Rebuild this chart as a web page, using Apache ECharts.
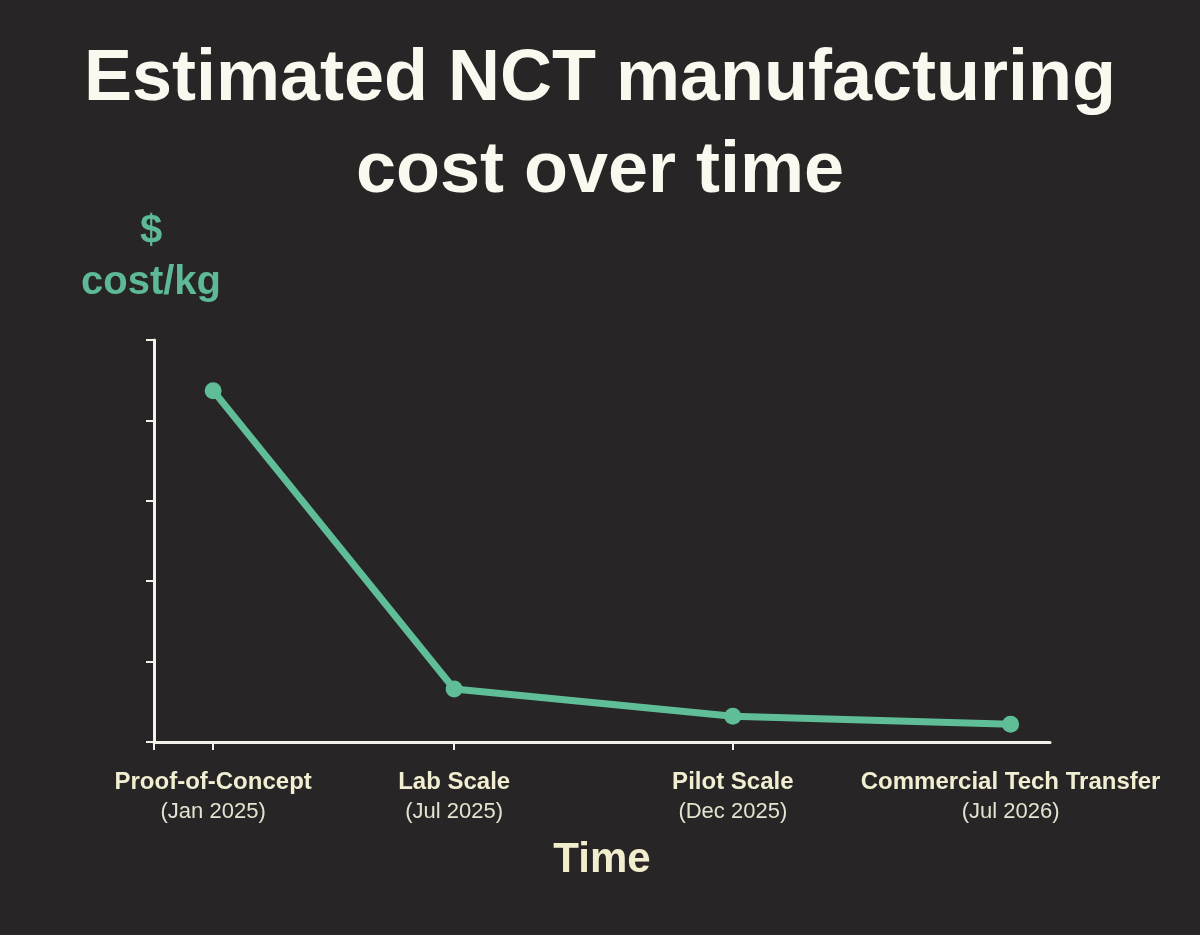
<!DOCTYPE html>
<html>
<head>
<meta charset="utf-8">
<script src="https://cdn.jsdelivr.net/npm/echarts@6/dist/echarts.min.js"></script>
<style>
html,body{margin:0;padding:0;background:#272526;}
#chart{width:1200px;height:935px;}
</style>
</head>
<body>
<div id="chart"></div>
<script>
var stages = ['Proof-of-Concept', 'Lab Scale', 'Pilot Scale', 'Commercial Tech Transfer'];
var dates = ['(Jan 2025)', '(Jul 2025)', '(Dec 2025)', '(Jul 2026)'];
var xPos = [6.6, 33.5, 64.6, 95.6];
var cost = [4.37, 0.66, 0.32, 0.22];
var yTicks = [0, 1, 2, 3, 4, 5];

var chart = echarts.init(document.getElementById('chart'));
var fontFam = '"Liberation Sans", Arial, Helvetica, sans-serif';
var axisCol = '#F4F2E8';
var green = '#5FBE98';

chart.setOption({
  backgroundColor: '#272526',
  title: {
    text: 'Estimated NCT manufacturing\ncost over time',
    left: 'center',
    top: 29,
    textStyle: {
      color: '#FBF9EF',
      fontFamily: fontFam,
      fontWeight: 'bold',
      fontSize: 72,
      lineHeight: 92,
      align: 'center'
    }
  },
  grid: { left: 154, right: 150, top: 340, bottom: 193, containLabel: false },
  xAxis: {
    type: 'value',
    min: 0,
    max: 100,
    name: 'Time',
    nameLocation: 'middle',
    nameGap: 97,
    nameTextStyle: { color: '#F1EDCD', fontFamily: fontFam, fontWeight: 'bold', fontSize: 42 },
    splitLine: { show: false },
    axisLine: { show: true, lineStyle: { color: axisCol, width: 3 } },
    axisTick: { show: true, length: 8, customValues: [0, xPos[0], xPos[1], xPos[2]], lineStyle: { color: axisCol, width: 2 } },
    axisLabel: {
      show: true,
      customValues: xPos,
      margin: 26,
      formatter: function (v) {
        var i = xPos.indexOf(v);
        if (i < 0) return '';
        return '{b|' + stages[i] + '}\n{d|' + dates[i] + '}';
      },
      rich: {
        b: { color: '#F2EED2', fontFamily: fontFam, fontWeight: 'bold', fontSize: 24, lineHeight: 28 },
        d: { color: '#E6E2D0', fontFamily: fontFam, fontSize: 22, lineHeight: 31 }
      }
    }
  },
  yAxis: {
    type: 'value',
    min: 0,
    max: 5,
    interval: 1,
    name: '$\ncost/kg',
    nameLocation: 'end',
    nameGap: 32,
    nameTextStyle: { color: '#5DB996', fontFamily: fontFam, fontWeight: 'bold', fontSize: 40, lineHeight: 51, align: 'center', padding: [0, 6, 0, 0] },
    splitLine: { show: false },
    axisLine: { show: true, lineStyle: { color: axisCol, width: 3 } },
    axisTick: { show: true, length: 8, customValues: yTicks, lineStyle: { color: axisCol, width: 2 } },
    axisLabel: { show: false }
  },
  series: [{
    type: 'line',
    data: xPos.map(function (x, i) { return [x, cost[i]]; }),
    symbol: 'circle',
    symbolSize: 17,
    lineStyle: { color: green, width: 7 },
    itemStyle: { color: green },
    silent: true,
    animation: false
  }]
});
</script>
</body>
</html>
